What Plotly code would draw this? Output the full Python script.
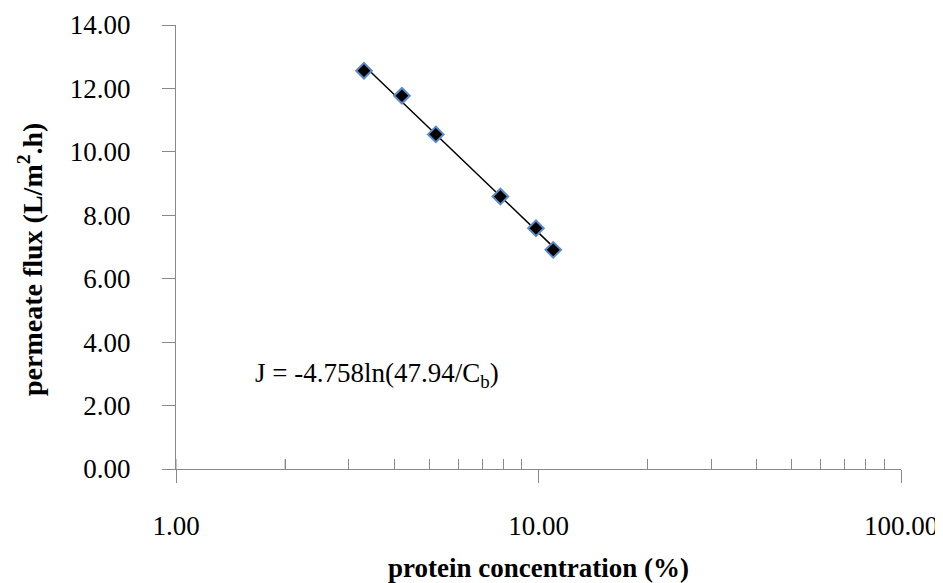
import numpy as np
import plotly.graph_objects as go

# ---- data ----
conc = [3.30, 4.20, 5.21, 7.85, 9.84, 10.98]          # protein concentration (%)
flux = [12.56, 11.77, 10.55, 8.59, 7.59, 6.91]         # permeate flux (L/m2.h)

x_tick_vals = [1, 10, 100]
x_tick_text = ["1.00", "10.00", "100.00"]
x_minor_vals = [2, 3, 4, 5, 6, 7, 8, 9, 20, 30, 40, 50, 60, 70, 80, 90]
y_tick_vals = [0, 2, 4, 6, 8, 10, 12, 14]
y_tick_text = ["0.00", "2.00", "4.00", "6.00", "8.00", "10.00", "12.00", "14.00"]

x_title = "<b>protein concentration (%)</b>"
y_title = "<b>permeate flux (L/m<sup>2</sup>.h)</b>"
equation_text = "J = -4.758ln(47.94/C<sub>b</sub>)"

# logarithmic trendline (least squares on ln x), drawn over the data span
a, b = np.polyfit(np.log(conc), flux, 1)
trend_x = [min(conc), max(conc)]
trend_y = [a * np.log(v) + b for v in trend_x]

AX = "#898989"
FONT = "Liberation Serif, Times New Roman, serif"

fig = go.Figure()
fig.add_trace(go.Scatter(x=trend_x, y=trend_y, mode="lines",
                         line=dict(color="black", width=1.5),
                         hoverinfo="skip", showlegend=False))
fig.add_trace(go.Scatter(x=conc, y=flux, mode="markers",
                         marker=dict(symbol="diamond", size=12, color="black",
                                     line=dict(color="#5B8BCB", width=2)),
                         showlegend=False))

# inside halves of the crossing major x ticks (10 and 100)
shapes = []
for v in x_tick_vals[1:]:
    shapes.append(dict(type="line", xref="x", yref="y",
                       x0=np.log10(v), x1=np.log10(v),
                       ysizemode="pixel", yanchor=0, y0=0, y1=10,
                       line=dict(color=AX, width=1)))

fig.update_layout(
    width=935, height=575,
    margin=dict(l=168, r=42, t=17, b=114),
    paper_bgcolor="white", plot_bgcolor="white",
    font=dict(family=FONT, size=27, color="black"),
    showlegend=False,
    shapes=shapes,
    xaxis=dict(type="log", range=[0, 2], automargin=False,
               tickmode="array", tickvals=x_tick_vals, ticktext=x_tick_text,
               ticks="outside", ticklen=13, tickwidth=1, tickcolor=AX,
               showline=True, linecolor=AX, linewidth=1,
               showgrid=False, zeroline=False,
               ticklabelstandoff=20,
               minor=dict(tickmode="array", tickvals=x_minor_vals,
                          ticks="inside", ticklen=10, tickwidth=1, tickcolor=AX,
                          showgrid=False),
               title=dict(text=x_title,
                          font=dict(family=FONT, size=27), standoff=23)),
    yaxis=dict(range=[0, 14], automargin=False,
               tickmode="array", tickvals=y_tick_vals, ticktext=y_tick_text,
               ticks="outside", ticklen=13, tickwidth=1, tickcolor=AX,
               showline=True, linecolor=AX, linewidth=1,
               showgrid=False, zeroline=False,
               ticklabelstandoff=26),
    annotations=[
        dict(text=equation_text, xref="paper", yref="paper",
             x=(252.7 - 176) / 725, y=(469 - 375) / 444,
             xanchor="left", yanchor="middle", showarrow=False,
             font=dict(family=FONT, size=27, color="black")),
        dict(text=y_title, xref="paper", yref="paper",
             x=(30 - 176) / 725, y=(469 - 260) / 444, textangle=-90,
             xanchor="center", yanchor="middle", showarrow=False,
             font=dict(family=FONT, size=28, color="black")),
    ],
)

fig.write_html("out.html")
